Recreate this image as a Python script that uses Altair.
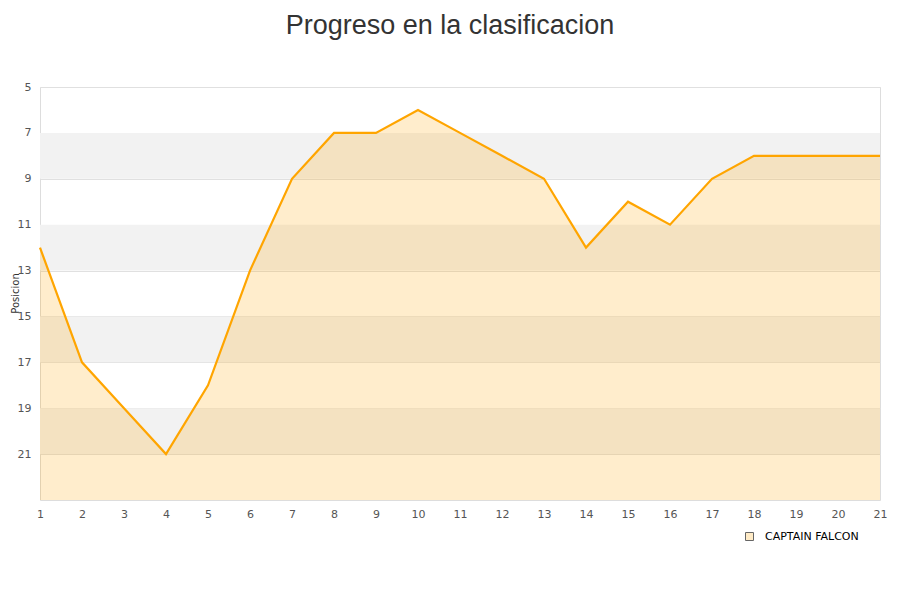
import altair as alt
import pandas as pd

jornadas = list(range(1, 22))
posiciones = [12, 17, 19, 21, 18, 13, 9, 7, 7, 6, 7, 8, 9, 12, 10, 11, 9, 8, 8, 8, 8]
equipo = "CAPTAIN FALCON"
band_start = [7, 11, 15, 19]
band_end = [9, 13, 17, 21]
y_ticks = [5, 7, 9, 11, 13, 15, 17, 19, 21]

df = pd.DataFrame({"j": jornadas, "p": posiciones, "equipo": equipo, "base": 23})
bands = pd.DataFrame({"a": band_start, "b": band_end})
leg = pd.DataFrame({"equipo": [equipo], "j": [1], "p": [5]})

xs = alt.Scale(domain=[1, 21], nice=False, zero=False)
ys = alt.Scale(domain=[5, 23], reverse=True, nice=False, zero=False)

band_layer = alt.Chart(bands).mark_rect(color="#f2f2f2").encode(
    y=alt.Y("a:Q", scale=ys), y2="b:Q"
)

area = alt.Chart(df).mark_area(color="#FFA500", opacity=0.2, interpolate="linear").encode(
    x=alt.X("j:Q", scale=xs,
            axis=alt.Axis(values=jornadas, title=None, grid=False, ticks=False, domain=False,
                          labelFont="DejaVu Sans", labelFontSize=11, labelColor="#555",
                          labelPadding=8, labelFlush=False, format="d")),
    y=alt.Y("p:Q", scale=ys,
            axis=alt.Axis(values=y_ticks, title="Posicion", grid=True, gridColor="#e0e0e0",
                          ticks=False, domain=False, labelFont="DejaVu Sans", labelFontSize=11,
                          labelColor="#555", labelPadding=9, titleFont="DejaVu Sans",
                          titleFontSize=10, titleFontWeight="normal", titleColor="#333",
                          titleX=-25, titleY=206, titleAngle=-90, titleAlign="center",
                          titleBaseline="middle")),
    y2="base:Q",
)

line = alt.Chart(df).mark_line(color="#FFA500", strokeWidth=2.2).encode(
    x=alt.X("j:Q", scale=xs), y=alt.Y("p:Q", scale=ys)
)

legend_layer = alt.Chart(leg).mark_point(shape="square", filled=True, opacity=0).encode(
    x=alt.X("j:Q", scale=xs), y=alt.Y("p:Q", scale=ys),
    fill=alt.Fill("equipo:N", scale=alt.Scale(range=["#FFEBC6"]),
                  legend=alt.Legend(title=None, orient="none", legendX=704, legendY=444,
                                    symbolType="square", symbolSize=64, symbolOpacity=1,
                                    symbolStrokeColor="#666", symbolStrokeWidth=1,
                                    labelOffset=10,
                                    labelFont="DejaVu Sans", labelFontSize=11, labelColor="#000")),
)

chart = alt.layer(band_layer, area, line, legend_layer).properties(
    width=840, height=413,
    padding={"left": 32, "top": 79, "right": 12, "bottom": 70},
    autosize=alt.AutoSizeParams(type="none"),
    title=alt.Title("Progreso en la clasificacion", font="Liberation Sans", fontSize=27,
                    fontWeight="normal", color="#333", anchor="middle", dx=-10, offset=41),
).configure_view(stroke="#dddddd")

chart.save("out.html", embed_options={"renderer": "svg", "actions": False})
